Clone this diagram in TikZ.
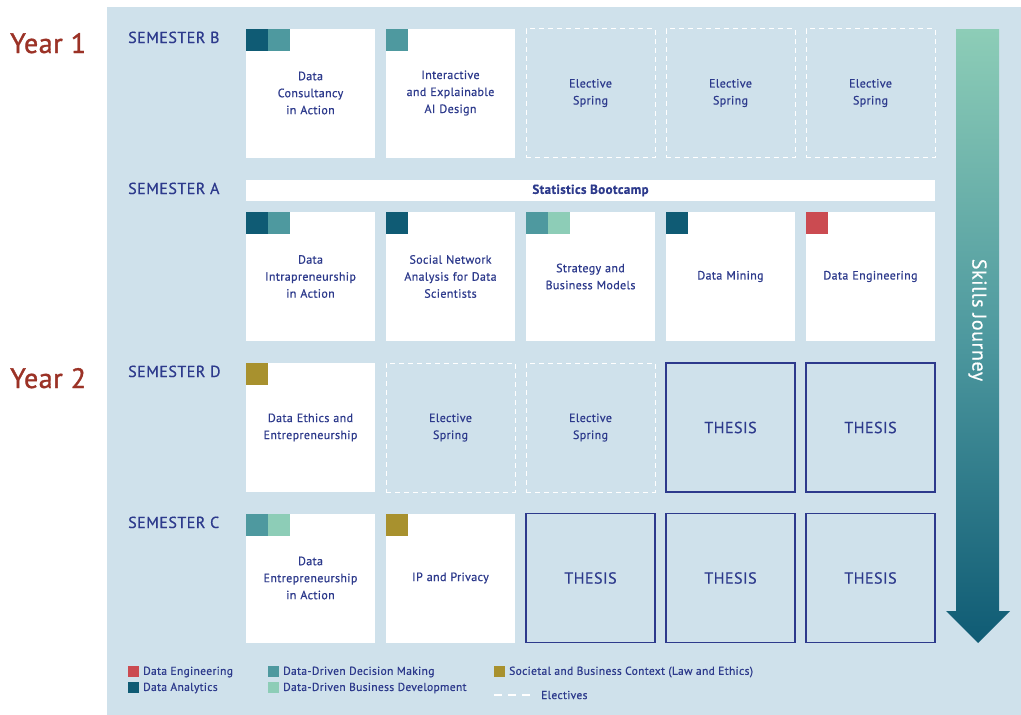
\documentclass[tikz,border=0pt]{standalone}
\usepackage{fontspec}
\setmainfont[LetterSpace=3, FakeBold=0.6]{PT Sans}
\newfontfamily\yearfont[LetterSpace=2, FakeBold=1.2]{PT Sans}
\usetikzlibrary{positioning}
\usepackage{xcolor}
\definecolor{navy}{HTML}{2D3A8C}
\definecolor{yearred}{HTML}{9B3226}
\definecolor{panel}{HTML}{CFE1EB}
\definecolor{dteal}{HTML}{0F5B74}
\definecolor{teal}{HTML}{4E999F}
\definecolor{mint}{HTML}{8DCDB7}
\definecolor{ered}{HTML}{CB4B51}
\definecolor{gold}{HTML}{A8912E}

\begin{document}
\begin{tikzpicture}[
x=1pt, y=-1pt,
course/.style={fill=white,
minimum width=129pt,
minimum height=129pt,
inner sep=0pt, outer sep=0pt,
text width=120pt,
align=center, text=navy,
font=\fontsize{12}{17}\selectfont},
elective/.style={course, fill=none, draw=white, line width=1pt, dash pattern=on 5pt off 4pt},
thesis/.style={course, fill=none, draw=navy, line width=1.1pt, font=\fontsize{16}{20}\selectfont},
tag/.style={minimum size=22pt, inner sep=0pt, outer sep=0pt, anchor=north west},
semester/.style={anchor=base west, inner sep=0pt, text=navy, font=\fontsize{16}{18}\selectfont},
year/.style={anchor=base west, inner sep=0pt, text=yearred, font=\yearfont\fontsize{28}{32}\selectfont},
legendbox/.style={minimum size=11pt, inner sep=0pt, anchor=north west},
legendtext/.style={anchor=west, inner sep=0pt, text=navy, font=\fontsize{11.5}{13}\selectfont}
]

\useasboundingbox (0,0) rectangle (1021,715);
\fill[panel] (107,7) rectangle (1021,715);

% years and semesters
\node[year] (year1) at (10,53) {Year 1};
\node[year] (year2) at (10,388) {Year 2};
\node[semester] (semB) at (128,43) {SEMESTER B};
\node[semester] (semA) at (128,194) {SEMESTER A};
\node[semester] (semD) at (128,377) {SEMESTER D};
\node[semester] (semC) at (128,528) {SEMESTER C};

% semester B
\node[course] (b1) at (310.5,93) {Data\\Consultancy\\in Action};
\node[course, right=11pt of b1] (b2) {Interactive\\and Explainable\\AI Design};
\node[elective, right=11pt of b2] (b3) {Elective\\Spring};
\node[elective, right=11pt of b3] (b4) {Elective\\Spring};
\node[elective, right=11pt of b4] (b5) {Elective\\Spring};

% semester A
\node[fill=white, minimum width=689pt, minimum height=21pt, inner sep=0pt, text=navy,
font=\bfseries\fontsize{13}{14}\selectfont] (boot) at (590.5,190.5) {Statistics Bootcamp};
\node[course] (a1) at (310.5,276.5) {Data\\Intrapreneurship\\in Action};
\node[course, right=11pt of a1] (a2) {Social Network\\Analysis for Data\\Scientists};
\node[course, right=11pt of a2] (a3) {Strategy and\\Business Models};
\node[course, right=11pt of a3] (a4) {Data Mining};
\node[course, right=11pt of a4] (a5) {Data Engineering};

% semester D
\node[course] (d1) at (310.5,427.5) {Data Ethics and\\Entrepreneurship};
\node[elective, right=11pt of d1] (d2) {Elective\\Spring};
\node[elective, right=11pt of d2] (d3) {Elective\\Spring};
\node[thesis, right=11pt of d3] (d4) {THESIS};
\node[thesis, right=11pt of d4] (d5) {THESIS};

% semester C
\node[course] (c1) at (310.5,578) {Data\\Entrepreneurship\\in Action};
\node[course, right=11pt of c1] (c2) {IP and Privacy};
\node[thesis, right=11pt of c2] (c3) {THESIS};
\node[thesis, right=11pt of c3] (c4) {THESIS};
\node[thesis, right=11pt of c4] (c5) {THESIS};

% skill tags
\node[tag, fill=dteal] (b1x) at (b1.north west) {};
\node[tag, fill=teal, right=0pt of b1x] (b1y) {};
\node[tag, fill=teal] (b2x) at (b2.north west) {};
\node[tag, fill=dteal] (a1x) at (a1.north west) {};
\node[tag, fill=teal, right=0pt of a1x] (a1y) {};
\node[tag, fill=dteal] (a2x) at (a2.north west) {};
\node[tag, fill=teal] (a3x) at (a3.north west) {};
\node[tag, fill=mint, right=0pt of a3x] (a3y) {};
\node[tag, fill=dteal] (a4x) at (a4.north west) {};
\node[tag, fill=ered] (a5x) at (a5.north west) {};
\node[tag, fill=gold] (d1x) at (d1.north west) {};
\node[tag, fill=teal] (c1x) at (c1.north west) {};
\node[tag, fill=mint, right=0pt of c1x] (c1y) {};
\node[tag, fill=gold] (c2x) at (c2.north west) {};

% skills journey arrow
\shade[top color=mint, bottom color=dteal, middle color=teal]
(956,29) -- (999,29) -- (999,611) -- (1010,611) -- (978,643) -- (946,611) -- (956,611) -- cycle;
\node[rotate=-90, text=white, font=\fontsize{20}{22}\selectfont] (journey) at (977.5,320) {Skills Journey};

% legend
\node[legendbox, fill=ered] (l1) at (128,666) {};
\node[legendtext] (l1t) at (143,672) {Data Engineering};
\node[legendbox, fill=dteal] (l2) at (128,682) {};
\node[legendtext] (l2t) at (143,688) {Data Analytics};
\node[legendbox, fill=teal] (l3) at (268,666) {};
\node[legendtext] (l3t) at (283,672) {Data-Driven Decision Making};
\node[legendbox, fill=mint] (l4) at (268,682) {};
\node[legendtext] (l4t) at (283,688) {Data-Driven Business Development};
\node[legendbox, fill=gold] (l5) at (494,666) {};
\node[legendtext] (l5t) at (509,672) {Societal and Business Context (Law and Ethics)};
\coordinate (l6) at (494,695);
\node[legendtext] (l6t) at (541,695) {Electives};
\draw[white, line width=1.5pt, dash pattern=on 8pt off 6pt] (l6) -- ++(36,0);

\end{tikzpicture}
\end{document}
